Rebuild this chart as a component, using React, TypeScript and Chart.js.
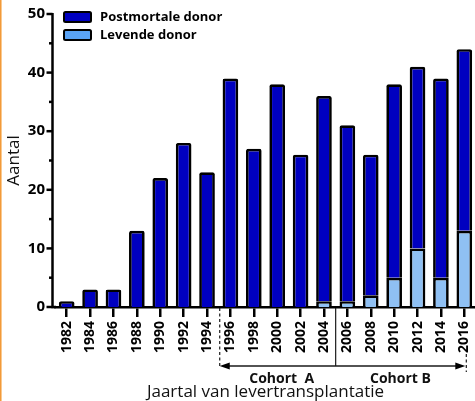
import React, { useEffect, useRef } from "react";
import { Chart, registerables } from "chart.js";

Chart.register(...registerables);

const years = ["1982", "1984", "1986", "1988", "1990", "1992", "1994", "1996", "1998", "2000", "2002", "2004", "2006", "2008", "2010", "2012", "2014", "2016"];
const postmortale = [1, 3, 3, 13, 22, 28, 23, 39, 27, 38, 26, 35, 30, 24, 33, 31, 34, 31];
const levende = [0, 0, 0, 0, 0, 0, 0, 0, 0, 0, 0, 1, 1, 2, 5, 10, 5, 13];
const seriesNames = ["Postmortale donor", "Levende donor"];
const cohortLabels = ["Cohort  A", "Cohort B"];
const yTitle = "Aantal";
const xTitle = "Jaartal van levertransplantatie";

const DARK = "#0000C0";
const LIGHT = "#8FC0F3";
const LEGEND_LIGHT = "#5AA3F5";
const FONT = "'Open Sans', 'DejaVu Sans', sans-serif";

const annotPlugin = {
  id: "annot",
  afterDraw(chart: any) {
    const ctx = chart.ctx;
    const xs = chart.scales.x;
    const ys = chart.scales.y;
    const ca = chart.chartArea;
    ctx.save();

    // orange strip at left edge
    ctx.fillStyle = "#F29A3A";
    ctx.fillRect(0, 0, 1, 401);
    ctx.fillStyle = "#FAC98F";
    ctx.fillRect(1, 0, 1, 401);

    // y axis line and ticks
    const axX = ca.left - 2.5;
    ctx.strokeStyle = "#000";
    ctx.lineWidth = 2.5;
    ctx.beginPath();
    ctx.moveTo(axX, ys.getPixelForValue(50) - 1);
    ctx.lineTo(axX, ys.getPixelForValue(0) + 1.25);
    ctx.stroke();
    for (let v = 0; v <= 50; v += 5) {
      const major = v % 10 === 0;
      const py = ys.getPixelForValue(v);
      ctx.beginPath();
      ctx.moveTo(axX - (major ? 6 : 3.5), py);
      ctx.lineTo(v === 0 ? ca.left + 1 : axX, py);
      ctx.stroke();
    }

    // legend
    const legendCols = [DARK, LEGEND_LIGHT];
    seriesNames.forEach((name, i) => {
      const top = 12 + i * 18;
      ctx.fillStyle = legendCols[i];
      ctx.strokeStyle = "#000";
      ctx.lineWidth = 2;
      ctx.beginPath();
      (ctx as any).roundRect(64, top, 27, 10, 1.5);
      ctx.fill();
      ctx.stroke();
      ctx.fillStyle = "#000";
      ctx.font = `bold 13px ${FONT}`;
      ctx.textAlign = "left";
      ctx.textBaseline = "middle";
      ctx.fillText(name, 100, top + 5.5);
    });

    // cohort annotations
    const bA = (xs.getPixelForValue(6) + xs.getPixelForValue(7)) / 2 + 1;
    const bB = (xs.getPixelForValue(11) + xs.getPixelForValue(12)) / 2;
    const rEnd = xs.getPixelForValue(17) + 1;
    const arrowY = ca.bottom + 59;
    ctx.strokeStyle = "#1a1a1a";
    ctx.lineWidth = 1.2;
    ctx.setLineDash([3, 2.5]);
    ctx.beginPath();
    ctx.moveTo(bA, ca.bottom + 1);
    ctx.lineTo(bA, arrowY);
    ctx.stroke();
    ctx.beginPath();
    ctx.moveTo(rEnd + 1, ca.bottom + 47);
    ctx.lineTo(rEnd + 1, arrowY + 6);
    ctx.stroke();
    ctx.setLineDash([]);
    ctx.beginPath();
    ctx.moveTo(bB, ca.bottom + 1);
    ctx.lineTo(bB, arrowY);
    ctx.stroke();
    ctx.lineWidth = 1.4;
    ctx.beginPath();
    ctx.moveTo(bA + 6, arrowY);
    ctx.lineTo(rEnd - 6, arrowY);
    ctx.stroke();
    ctx.fillStyle = "#000";
    ctx.beginPath();
    ctx.moveTo(bA, arrowY);
    ctx.lineTo(bA + 10, arrowY - 3.5);
    ctx.lineTo(bA + 10, arrowY + 3.5);
    ctx.closePath();
    ctx.fill();
    ctx.beginPath();
    ctx.moveTo(rEnd, arrowY);
    ctx.lineTo(rEnd - 10, arrowY - 3.5);
    ctx.lineTo(rEnd - 10, arrowY + 3.5);
    ctx.closePath();
    ctx.fill();

    ctx.font = `bold 14px ${FONT}`;
    ctx.textAlign = "center";
    ctx.textBaseline = "middle";
    ctx.fillStyle = "#111";
    ctx.fillText(cohortLabels[0], (bA + bB) / 2 + 4, arrowY + 13);
    ctx.fillText(cohortLabels[1], (bB + rEnd) / 2, arrowY + 13);

    ctx.restore();
  },
};

export default function App() {
  const ref = useRef<HTMLCanvasElement>(null);
  useEffect(() => {
    if (!ref.current) return;
    const chart = new Chart(ref.current, {
      type: "bar",
      data: {
        labels: years,
        datasets: [
          {
            label: seriesNames[1],
            data: levende,
            backgroundColor: LIGHT,
            borderColor: "#000",
            borderWidth: 2.7,
            borderRadius: 2,
            borderSkipped: "start",
          },
          {
            label: seriesNames[0],
            data: postmortale,
            backgroundColor: DARK,
            borderColor: "#000",
            borderWidth: 2.7,
            borderRadius: 2,
            borderSkipped: "start",
          },
        ],
      },
      options: {
        responsive: false,
        animation: false,
        devicePixelRatio: 1,
        layout: { padding: { left: 0, right: 2, top: 14, bottom: 0 } },
        datasets: { bar: { barPercentage: 0.67, categoryPercentage: 1 } },
        plugins: { legend: { display: false }, tooltip: { enabled: false } },
        scales: {
          x: {
            stacked: true,
            offset: true,
            grid: { display: true, drawOnChartArea: false, offset: false, tickLength: 10, lineWidth: 2.5, color: "#000" },
            border: { display: true, width: 2.5, color: "#000" },
            ticks: {
              minRotation: 90,
              maxRotation: 90,
              autoSkip: false,
              padding: 4,
              color: "#000",
              font: { family: FONT, size: 14, weight: "bold" },
            },
            title: {
              display: true,
              text: xTitle,
              color: "#111",
              font: { family: FONT, size: 17, lineHeight: 1 },
              padding: { top: 0, bottom: 0 },
            },
            afterFit: (s: any) => {
              s.height = 94;
              s.paddingLeft = 0;
              s.paddingRight = 0;
            },
          },
          y: {
            stacked: true,
            min: 0,
            max: 50,
            grid: { display: false, drawTicks: true, tickLength: 8 },
            border: { display: false },
            ticks: {
              stepSize: 10,
              padding: 2,
              color: "#000",
              font: { family: FONT, size: 15, weight: "bold" },
            },
            title: {
              display: true,
              text: yTitle,
              color: "#111",
              font: { family: FONT, size: 17, lineHeight: 1.2 },
              padding: { top: 4, bottom: 0 },
            },
            afterFit: (s: any) => {
              s.width = 55;
            },
          },
        },
      },
      plugins: [annotPlugin],
    } as any);
    return () => chart.destroy();
  }, []);
  return (
    <div style={{ position: "fixed", left: 0, top: 0, width: 475, height: 401, overflow: "hidden", background: "#fff" }}>
      <canvas ref={ref} width={478} height={401} style={{ display: "block", width: 478, height: 401 }} />
    </div>
  );
}
